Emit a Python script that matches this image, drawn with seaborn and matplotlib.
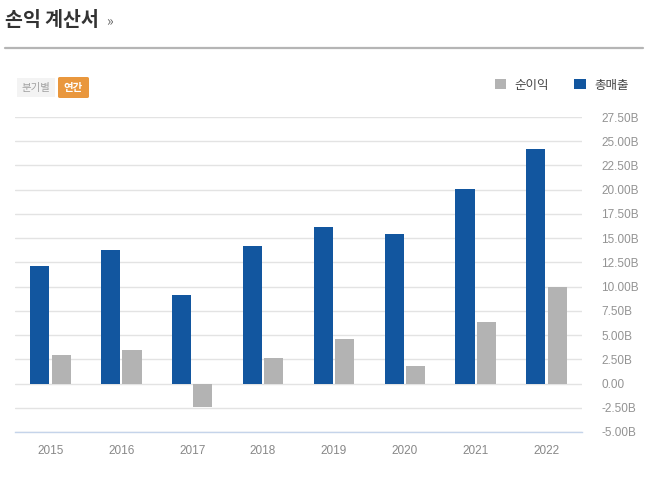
import pandas as pd
import matplotlib.pyplot as plt
import seaborn as sns
from matplotlib.patches import Patch, FancyBboxPatch
from matplotlib.lines import Line2D

# 데이터 (단위: B)
years = ['2015', '2016', '2017', '2018', '2019', '2020', '2021', '2022']
revenue = [12.1, 13.75, 9.1, 14.15, 16.2, 15.4, 20.05, 24.15]
net_income = [2.9, 3.5, -2.45, 2.6, 4.55, 1.85, 6.3, 10.0]
y_ticks = [-5.0, -2.5, 0.0, 2.5, 5.0, 7.5, 10.0, 12.5, 15.0, 17.5, 20.0, 22.5, 25.0, 27.5]

blue = '#12569f'
gray = '#b3b3b3'

df = pd.DataFrame({
    'year': years * 2,
    'value': revenue + net_income,
    'kind': ['총매출'] * len(years) + ['순이익'] * len(years),
})

sns.set_theme(style='white')
plt.rcParams['font.family'] = ['Noto Sans CJK KR', 'DejaVu Sans']

fig = plt.figure(figsize=(6.51, 4.79), dpi=100)
W, H = 651, 479
ax = fig.add_axes([15 / W, (H - 432) / H, (582 - 15) / W, (432 - 117) / H])

sns.barplot(data=df, x='year', y='value', hue='kind', hue_order=['총매출', '순이익'],
            palette=[blue, gray], width=0.6, gap=0.1, saturation=1,
            edgecolor='none', linewidth=0, ax=ax, legend=False)

ax.set_ylim(-5, 27.5)
ax.set_xlim(-0.5, len(years) - 0.5)
ax.set_yticks(y_ticks)
ax.set_yticklabels([f'{t:.2f}B' if t != 0 else '0.00' for t in y_ticks])
ax.yaxis.tick_right()
ax.grid(axis='y', color='#e3e3e3', linewidth=1)
ax.set_axisbelow(True)
for s in ['top', 'left', 'right']:
    ax.spines[s].set_visible(False)
ax.spines['bottom'].set_color('#c5d4ea')
ax.spines['bottom'].set_linewidth(1)
ax.tick_params(axis='y', length=0, pad=14, labelsize=8.5, labelcolor='#939393')
ax.tick_params(axis='x', length=0, pad=9, labelsize=8.5, labelcolor='#888888')
for lab in ax.get_xticklabels() + ax.get_yticklabels():
    lab.set_family(['Liberation Sans', 'Noto Sans CJK KR'])
ax.set_xlabel('')
ax.set_ylabel('')

# 제목
fig.text(5 / W, 1 - 20 / H, '손익 계산서', fontsize=14, fontweight='bold',
         color='#333333', va='center', ha='left')
fig.text(106 / W, 1 - 21 / H, '»', fontsize=10, color='#666666', va='center', ha='left')
fig.add_artist(Line2D([5 / W, 643 / W], [1 - 48 / H, 1 - 48 / H],
                      color='#b5b5b5', linewidth=1.6, transform=fig.transFigure))

# 버튼
fig.add_artist(FancyBboxPatch((17 / W, 1 - 97 / H), 38 / W, 19 / H,
                              boxstyle='square,pad=0', facecolor='#f3f3f3',
                              edgecolor='none', transform=fig.transFigure))
fig.text(36 / W, 1 - 88 / H, '분기별', fontsize=7.5, color='#a0a0a0', ha='center', va='center')
fig.add_artist(FancyBboxPatch((58 / W, 1 - 98 / H), 31 / W, 21 / H,
                              boxstyle='round,pad=0,rounding_size=0.003', facecolor='#e9973d',
                              edgecolor='none', transform=fig.transFigure))
fig.text(73.5 / W, 1 - 88 / H, '연간', fontsize=7.5, color='white', fontweight='bold',
         ha='center', va='center')

# 범례
handles = [Patch(facecolor=gray, edgecolor='none', label='순이익'),
           Patch(facecolor=blue, edgecolor='none', label='총매출')]
fig.legend(handles=handles, loc='center right', bbox_to_anchor=(640 / W, 1 - 85 / H),
           ncol=2, frameon=False, fontsize=9, handlelength=0.9, handleheight=0.9,
           handletextpad=0.7, columnspacing=2.0, labelcolor='#444444')

fig.savefig('out.png', dpi=100)
